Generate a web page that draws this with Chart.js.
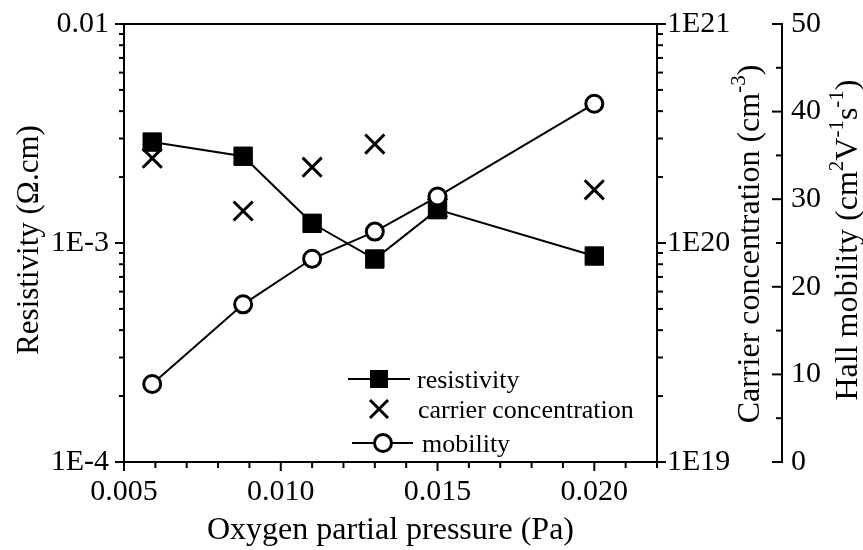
<!DOCTYPE html>
<html><head><meta charset="utf-8">
<script src="https://cdn.jsdelivr.net/npm/chart.js@4.4.0/dist/chart.umd.min.js"></script>
<style>html,body{margin:0;padding:0;background:#fff}#wrap{width:863px;height:550px}</style>
</head><body><div id="wrap"><canvas id="c" width="863" height="550"></canvas></div>
<script>
// ---- data ----
const pressure = [0.0059, 0.0088, 0.011, 0.013, 0.015, 0.020];
const resistivity = [2.89e-3, 2.49e-3, 1.23e-3, 8.45e-4, 1.42e-3, 8.72e-4];
const carrier = [2.44e20, 1.40e20, 2.22e20, 2.83e20, 1.45e20, 1.75e20];
const mobility = [8.9, 18.0, 23.2, 26.3, 30.3, 40.9];

const xTickValues = [0.005, 0.010, 0.015, 0.020];
const resTickValues = [1e-4, 1e-3, 1e-2];
const resTickLabels = ['1E-4', '1E-3', '0.01'];
const carTickValues = [1e19, 1e20, 1e21];
const carTickLabels = ['1E19', '1E20', '1E21'];
const mobTickValues = [0, 10, 20, 30, 40, 50];
const legendLabels = ['resistivity', 'carrier concentration', 'mobility'];

const FONT = "'Liberation Serif', 'Times New Roman', serif";
Chart.defaults.font.family = FONT;
Chart.defaults.color = '#000';

function pts(ys) { return pressure.map((p, i) => ({x: p, y: ys[i]})); }

function drawRich(ctx, cx, cy, parts, size, rotate) {
  ctx.save();
  ctx.translate(cx, cy);
  if (rotate) ctx.rotate(-Math.PI / 2);
  const supSize = Math.round(size * 0.65);
  let total = 0;
  const widths = parts.map(p => {
    ctx.font = (p.sup ? supSize : size) + 'px ' + FONT;
    const w = ctx.measureText(p.t).width; total += w; return w;
  });
  const base = size * 0.33;
  let xx = -total / 2;
  ctx.textAlign = 'left'; ctx.textBaseline = 'alphabetic'; ctx.fillStyle = '#000';
  parts.forEach((p, i) => {
    ctx.font = (p.sup ? supSize : size) + 'px ' + FONT;
    ctx.fillText(p.t, xx, p.sup ? base - size * 0.42 : base);
    xx += widths[i];
  });
  ctx.restore();
}

function line(ctx, x1, y1, x2, y2) { ctx.beginPath(); ctx.moveTo(x1, y1); ctx.lineTo(x2, y2); ctx.stroke(); }

const decor = {
  id: 'decor',
  afterDraw(chart) {
    const ctx = chart.ctx, ca = chart.chartArea;
    const sx = chart.scales.x, sy = chart.scales.y, s2 = chart.scales.y2, s3 = chart.scales.y3;
    ctx.save();
    ctx.strokeStyle = '#000'; ctx.lineWidth = 2;
    // top frame
    line(ctx, ca.left - 1, ca.top, ca.right + 1, ca.top);
    // x ticks (minor every 0.001)
    for (let k = 5; k <= 22; k++) {
      const v = k / 1000, px = sx.getPixelForValue(v);
      const len = (k % 5 === 0) ? 9 : 6;
      line(ctx, px, ca.bottom, px, ca.bottom + len);
    }
    // log ticks
    for (let d = -4; d <= -2; d++) for (let m = 1; m <= 9; m++) {
      const v = m * Math.pow(10, d); if (v > 1.0001e-2) continue;
      const py = sy.getPixelForValue(v), len = m === 1 ? 9 : 5;
      line(ctx, ca.left, py, ca.left - len, py);
    }
    for (let d = 19; d <= 21; d++) for (let m = 1; m <= 9; m++) {
      const v = m * Math.pow(10, d); if (v > 1.0001e21) continue;
      const py = s2.getPixelForValue(v), len = m === 1 ? 9 : 6;
      line(ctx, ca.right, py, ca.right + len, py);
    }
    // mobility ticks
    const ax3 = s3.left;
    for (let v = 0; v <= 50; v += 5) {
      const py = s3.getPixelForValue(v), len = v % 10 === 0 ? 10 : 6;
      line(ctx, ax3, py, ax3 - len, py);
    }
    // titles
    drawRich(ctx, (ca.left + ca.right) / 2, 528, [{t: 'Oxygen partial pressure (Pa)'}], 32, false);
    drawRich(ctx, 28, 240, [{t: 'Resistivity (\u03A9.cm)'}], 31, true);
    drawRich(ctx, 748, 244, [{t: 'Carrier concentration (cm'}, {t: '-3', sup: true}, {t: ')'}], 32, true);
    drawRich(ctx, 846, 240, [{t: 'Hall mobility (cm'}, {t: '2', sup: true}, {t: 'V'}, {t: '-1', sup: true}, {t: 's'}, {t: '-1', sup: true}, {t: ')'}], 32, true);
    // legend
    const lx = ca.left + 224, ly = 379, gap = 32;
    ctx.font = '26px ' + FONT; ctx.fillStyle = '#000'; ctx.textAlign = 'left'; ctx.textBaseline = 'alphabetic';
    ctx.lineWidth = 2;
    line(ctx, lx, ly, lx + 62, ly);
    ctx.fillRect(lx + 31 - 9, ly - 9, 18, 18);
    ctx.fillText(legendLabels[0], lx + 69, ly + 9);
    const y2r = ly + gap - 2;
    ctx.lineWidth = 3;
    line(ctx, lx + 31 - 9, y2r - 9, lx + 31 + 9, y2r + 9);
    line(ctx, lx + 31 - 9, y2r + 9, lx + 31 + 9, y2r - 9);
    ctx.fillText(legendLabels[1], lx + 70, y2r + 9);
    const y3r = ly + 2 * gap;
    ctx.lineWidth = 2;
    line(ctx, lx + 4, y3r, lx + 65, y3r);
    ctx.beginPath(); ctx.arc(lx + 35, y3r, 8.5, 0, Math.PI * 2); ctx.fillStyle = '#fff'; ctx.fill();
    ctx.lineWidth = 3; ctx.stroke();
    ctx.fillStyle = '#000';
    ctx.fillText(legendLabels[2], lx + 74, y3r + 9);
    ctx.restore();
  }
};

const tickFont = {size: 30, family: FONT};
function noPad(s) { s.paddingTop = 0; s.paddingBottom = 0; s.paddingLeft = 0; s.paddingRight = 0; }

new Chart(document.getElementById('c'), {
  type: 'line',
  data: {
    datasets: [
      { label: legendLabels[0], data: pts(resistivity), yAxisID: 'y', order: 2,
        borderColor: '#000', borderWidth: 2, pointStyle: 'rect', pointRadius: 13,
        pointBackgroundColor: '#000', pointBorderColor: '#000', pointBorderWidth: 1, tension: 0 },
      { label: legendLabels[1], data: pts(carrier), yAxisID: 'y2', order: 1, showLine: false,
        borderColor: '#000', pointStyle: 'crossRot', pointRadius: 13.5, pointBorderWidth: 3,
        pointBorderColor: '#000', pointBackgroundColor: '#000' },
      { label: legendLabels[2], data: pts(mobility), yAxisID: 'y3', order: 0,
        borderColor: '#000', borderWidth: 2, pointStyle: 'circle', pointRadius: 8.5,
        pointBackgroundColor: '#fff', pointBorderColor: '#000', pointBorderWidth: 3, tension: 0 }
    ]
  },
  options: {
    responsive: false, animation: false, devicePixelRatio: 1,
    layout: {padding: {top: 24, left: 0, right: 0, bottom: 0}},
    plugins: {legend: {display: false}, tooltip: {enabled: false}},
    scales: {
      x: { type: 'linear', position: 'bottom', min: 0.005, max: 0.022,
        afterBuildTicks: s => { s.ticks = xTickValues.map(v => ({value: v})); },
        afterFit: s => { s.height = 88; noPad(s); },
        grid: {display: false, drawTicks: false},
        border: {display: true, color: '#000', width: 2},
        ticks: {font: tickFont, color: '#000', padding: 12, maxRotation: 0, autoSkip: false,
          callback: v => Number(v).toFixed(3)} },
      y: { type: 'logarithmic', position: 'left', min: 1e-4, max: 1e-2,
        afterBuildTicks: s => { s.ticks = resTickValues.map(v => ({value: v})); },
        afterFit: s => { s.width = 124; noPad(s); },
        grid: {display: false, drawTicks: false},
        border: {display: true, color: '#000', width: 2},
        ticks: {font: tickFont, color: '#000', padding: 15, autoSkip: false,
          callback: v => resTickLabels[resTickValues.findIndex(t => Math.abs(Math.log10(t) - Math.log10(v)) < 1e-6)] ?? ''} },
      y2: { type: 'logarithmic', position: 'right', weight: 0, min: 1e19, max: 1e21,
        afterBuildTicks: s => { s.ticks = carTickValues.map(v => ({value: v})); },
        afterFit: s => { s.width = 125; noPad(s); },
        grid: {display: false, drawTicks: false},
        border: {display: true, color: '#000', width: 2},
        ticks: {font: tickFont, color: '#000', padding: 10, autoSkip: false,
          callback: v => carTickLabels[carTickValues.findIndex(t => Math.abs(Math.log10(t) - Math.log10(v)) < 1e-6)] ?? ''} },
      y3: { type: 'linear', position: 'right', weight: 1, min: 0, max: 50,
        afterBuildTicks: s => { s.ticks = mobTickValues.map(v => ({value: v})); },
        afterFit: s => { s.width = 81; noPad(s); },
        grid: {display: false, drawTicks: false},
        border: {display: true, color: '#000', width: 2},
        ticks: {font: tickFont, color: '#000', padding: 9, autoSkip: false} }
    }
  },
  plugins: [decor]
});
</script></body></html>
